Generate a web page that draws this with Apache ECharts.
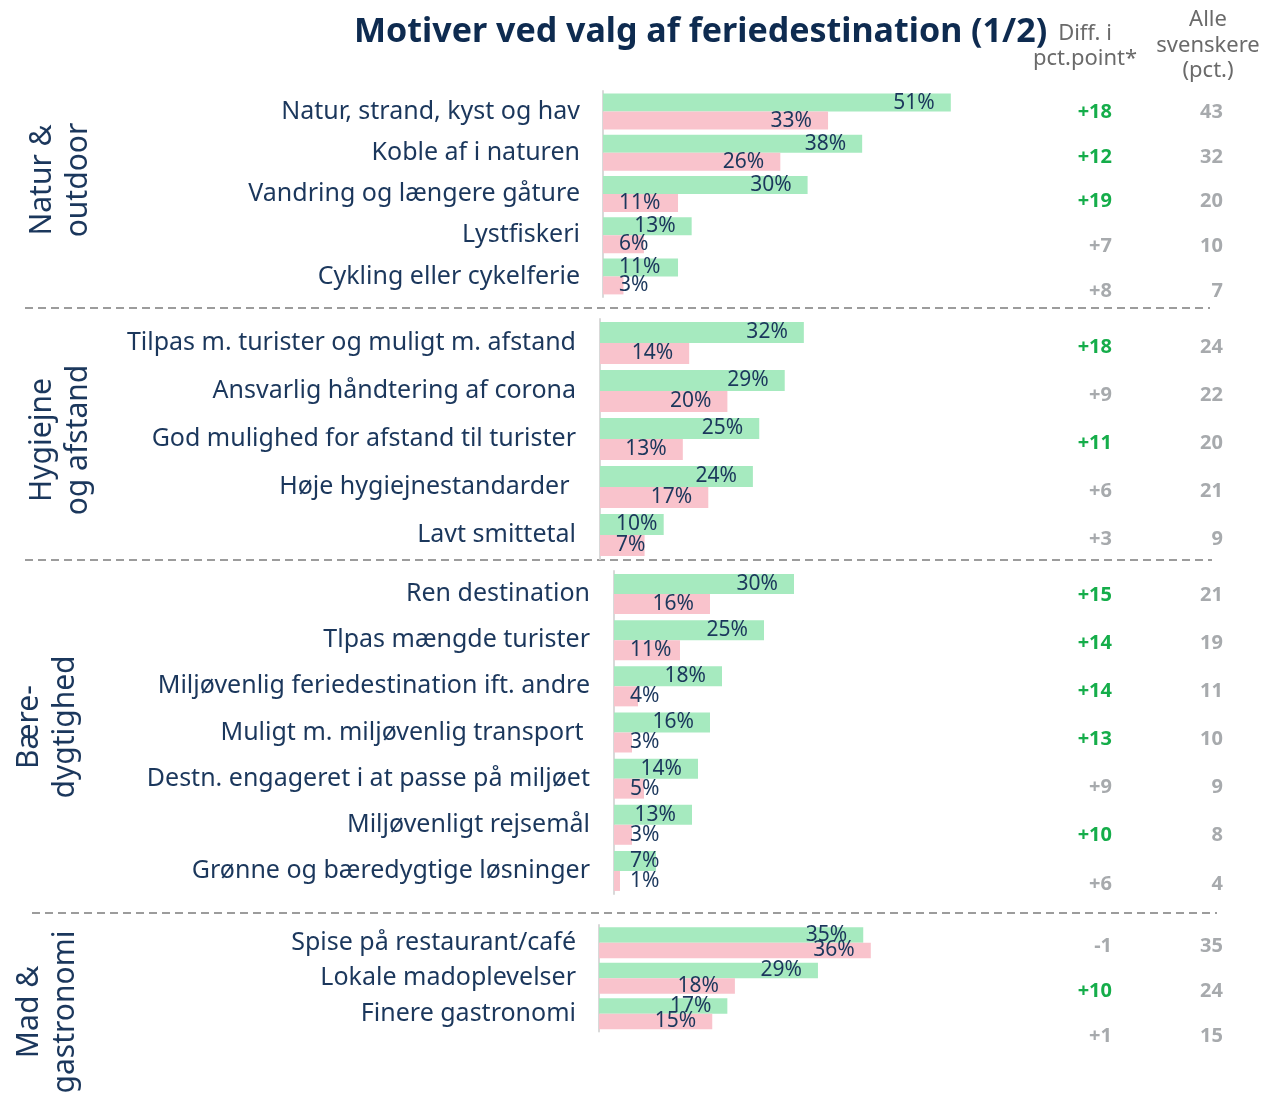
<!DOCTYPE html>
<html>
<head>
<meta charset="utf-8">
<style>
  html, body { margin: 0; padding: 0; background: #fff; }
  #chart { width: 1266px; height: 1098px; }
</style>
<script src="https://cdn.jsdelivr.net/npm/echarts@6/dist/echarts.min.js"></script>
</head>
<body>
<div id="chart"></div>
<script>
// Natur & outdoor
const naturCats = ['Natur, strand, kyst og hav', 'Koble af i naturen', 'Vandring og længere gåture', 'Lystfiskeri', 'Cykling eller cykelferie'];
const naturGreen = [51, 38, 30, 13, 11];
const naturPink = [33, 26, 11, 6, 3];
const naturDiff = [18, 12, 19, 7, 8];
const naturAlle = [43, 32, 20, 10, 7];

// Hygiejne og afstand
const hygCats = ['Tilpas m. turister og muligt m. afstand', 'Ansvarlig håndtering af corona', 'God mulighed for afstand til turister', 'Høje hygiejnestandarder ', 'Lavt smittetal'];
const hygGreen = [32, 29, 25, 24, 10];
const hygPink = [14, 20, 13, 17, 7];
const hygDiff = [18, 9, 11, 6, 3];
const hygAlle = [24, 22, 20, 21, 9];

// Bæredygtighed
const baerCats = ['Ren destination', 'Tlpas mængde turister', 'Miljøvenlig feriedestination ift. andre', 'Muligt m. miljøvenlig transport ', 'Destn. engageret i at passe på miljøet', 'Miljøvenligt rejsemål', 'Grønne og bæredygtige løsninger'];
const baerGreen = [30, 25, 18, 16, 14, 13, 7];
const baerPink = [16, 11, 4, 3, 5, 3, 1];
const baerDiff = [15, 14, 14, 13, 9, 10, 6];
const baerAlle = [21, 19, 11, 10, 9, 8, 4];

// Mad & gastronomi
const madCats = ['Spise på restaurant/café', 'Lokale madoplevelser', 'Finere gastronomi'];
const madGreen = [35, 29, 17];
const madPink = [36, 18, 15];
const madDiff = [-1, 10, 1];
const madAlle = [35, 24, 15];

const groupNames = ['Natur &\noutdoor', 'Hygiejne\nog afstand', 'Bære-\ndygtighed', 'Mad &\ngastronomi'];

const groups = [
  [naturCats, naturGreen, naturPink, naturDiff, naturAlle],
  [hygCats, hygGreen, hygPink, hygDiff, hygAlle],
  [baerCats, baerGreen, baerPink, baerDiff, baerAlle],
  [madCats, madGreen, madPink, madDiff, madAlle]
];

// pixel layout of each block (bars grid + text column grid)
const layout = [
  { left: 603, top: 91, height: 206, scale: 6.82, bar: 18, margin: 23, tTop: 89.5, tH: 224.5, nx: 60, ny: 180 },
  { left: 600, top: 319, height: 240, scale: 6.37, bar: 21, margin: 24, tTop: 323, tH: 240, nx: 60, ny: 440 },
  { left: 614, top: 571, height: 323, scale: 6.0, bar: 20, margin: 24, tTop: 571, tH: 337, nx: 47, ny: 727 },
  { left: 599, top: 925, height: 106.5, scale: 7.55, bar: 15.5, margin: 23, tTop: 923.5, tH: 135, nx: 47, ny: 1012 }
];

const NAVY = '#1b375c';
const GREEN = '#a6eabf';
const PINK = '#f9c3cc';
const GRAY = '#a7aaad';
const FONT = '"Noto Sans", sans-serif';
const MAX = 60;

const grid = [], xAxis = [], yAxis = [], series = [];

function barData(vals, scale) {
  return vals.map(function (v) {
    const small = v * scale < 78;
    return {
      value: v,
      label: { position: small ? 'insideLeft' : 'insideRight', distance: small ? 16 : 16 }
    };
  });
}

groups.forEach(function (g, i) {
  const L = layout[i];
  const cats = g[0], green = g[1], pink = g[2], diff = g[3], alle = g[4];

  // bars
  grid.push({ left: L.left, top: L.top, height: L.height, width: L.scale * MAX });
  const bi = grid.length - 1;
  xAxis.push({ gridIndex: bi, type: 'value', min: 0, max: MAX, show: false });
  yAxis.push({
    gridIndex: bi, type: 'category', inverse: true, data: cats,
    axisTick: { show: false },
    axisLine: { lineStyle: { color: '#d9d9d9', width: 2 } },
    axisLabel: { margin: L.margin, fontSize: 25, fontFamily: FONT, color: NAVY }
  });
  const yi = yAxis.length - 1;
  const label = { show: true, formatter: '{c}%', color: NAVY, fontSize: 21, fontFamily: FONT };
  series.push({
    type: 'bar', name: 'Gruppe', xAxisIndex: bi, yAxisIndex: yi,
    barWidth: L.bar, barGap: '0%', itemStyle: { color: GREEN },
    label: label, data: barData(green, L.scale), silent: true
  });
  series.push({
    type: 'bar', name: 'Øvrige', xAxisIndex: bi, yAxisIndex: yi,
    barWidth: L.bar, barGap: '0%', itemStyle: { color: PINK },
    label: label, data: barData(pink, L.scale), silent: true
  });

  // text columns
  grid.push({ left: 1223, top: L.tTop, height: L.tH, width: 10 });
  const ti = grid.length - 1;
  xAxis.push({ gridIndex: ti, type: 'value', show: false });
  yAxis.push({
    gridIndex: ti, type: 'category', inverse: true, position: 'left', offset: 111,
    data: diff.map(String),
    axisLine: { show: false }, axisTick: { show: false },
    axisLabel: {
      margin: 0,
      formatter: function (v) {
        const n = Number(v);
        const s = (n > 0 ? '+' : '') + n;
        return n >= 10 ? '{g|' + s + '}' : '{n|' + s + '}';
      },
      rich: {
        g: { color: '#15ad4a', fontWeight: 'bold', fontSize: 20, fontFamily: FONT },
        n: { color: GRAY, fontWeight: 'bold', fontSize: 20, fontFamily: FONT }
      }
    }
  });
  yAxis.push({
    gridIndex: ti, type: 'category', inverse: true, position: 'left', offset: 0,
    data: alle.map(String),
    axisLine: { show: false }, axisTick: { show: false },
    axisLabel: { margin: 0, color: GRAY, fontWeight: 'bold', fontSize: 20, fontFamily: FONT }
  });
});

const graphic = [];
[[25, 308, 1210], [25, 560, 1212], [32, 913, 1217]].forEach(function (d) {
  graphic.push({
    type: 'line', silent: true,
    shape: { x1: d[0], y1: d[1], x2: d[2], y2: d[1] },
    style: { stroke: '#9c9c9c', lineWidth: 2, lineDash: [8, 5] }
  });
});
groupNames.forEach(function (name, i) {
  graphic.push({
    type: 'text', x: layout[i].nx, y: layout[i].ny, rotation: Math.PI / 2,
    style: {
      text: name, fontSize: 30, fontFamily: FONT, fill: NAVY, lineHeight: 36,
      align: 'center', verticalAlign: 'middle', textAlign: 'center', textVerticalAlign: 'middle'
    }
  });
});
graphic.push({
  type: 'text', x: 1085, y: 46.5,
  style: {
    text: 'Diff. i\npct.point*', fontSize: 22, fontFamily: FONT, fill: '#6a6a6a', lineHeight: 25,
    align: 'center', verticalAlign: 'middle', textAlign: 'center', textVerticalAlign: 'middle'
  }
});
graphic.push({
  type: 'text', x: 1208, y: 45.5,
  style: {
    text: 'Alle\nsvenskere\n(pct.)', fontSize: 22, fontFamily: FONT, fill: '#6a6a6a', lineHeight: 25.5,
    align: 'center', verticalAlign: 'middle', textAlign: 'center', textVerticalAlign: 'middle'
  }
});

const chart = echarts.init(document.getElementById('chart'));
chart.setOption({
  animation: false,
  title: {
    text: 'Motiver ved valg af feriedestination (1/2)',
    left: 349, top: 10,
    textStyle: { fontFamily: FONT, fontWeight: 'bold', fontSize: 34, color: '#0e2b50' }
  },
  grid: grid,
  xAxis: xAxis,
  yAxis: yAxis,
  series: series,
  graphic: graphic
});
</script>
</body>
</html>
